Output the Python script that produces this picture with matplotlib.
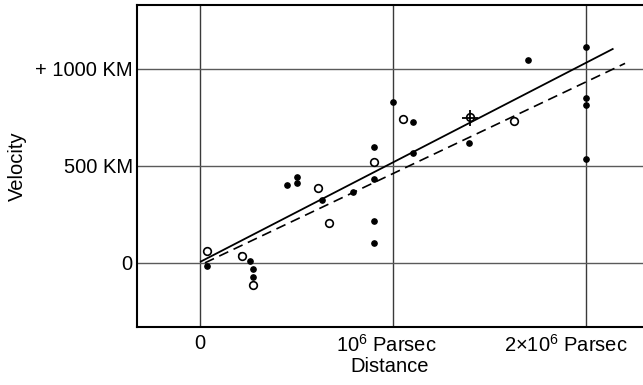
import matplotlib
matplotlib.use("Agg")
import matplotlib.pyplot as plt
from matplotlib.transforms import ScaledTranslation

plt.rcParams["font.family"] = ["Liberation Sans", "DejaVu Sans"]
plt.rcParams["mathtext.default"] = "regular"

# distance in units of 10^6 parsec, velocity in km/s
filled_dist = [0.038, 0.211, 0.261, 0.276, 0.276, 0.451, 0.503, 0.503, 0.634,
               0.794, 0.902, 0.902, 0.902, 0.902, 1.002, 1.102, 1.102, 1.395,
               1.699, 1.998, 1.998, 1.998, 1.998]
filled_vel = [-15, 41, 10, -29, -72, 402, 445, 414, 323,
              368, 600, 433, 218, 105, 832, 728, 569, 617,
              1046, 1115, 849, 814, 535]

open_dist = [0.038, 0.216, 0.273, 0.613, 0.670, 0.902, 1.050, 1.399, 1.627]
open_vel = [62, 36, -115, 388, 205, 519, 744, 754, 734]

cross_dist = [1.399]
cross_vel = [748]

# fitted relations
solid_dist = [0.005, 2.138]
solid_vel = [7, 1103]
dashed_dist = [0.026, 2.202]
dashed_vel = [0, 1029]

xticks = [0, 1, 2]
xtick_labels = ["0", "10$^6$ Parsec", "2×10$^6$ Parsec"]
yticks = [0, 500, 1000]
ytick_labels = ["0", "500 KM", "+ 1000 KM"]

fig = plt.figure(figsize=(6.43, 3.85), dpi=100)
ax = fig.add_axes([0.213, 0.151, 0.787, 0.836])

for x in xticks:
    ax.axvline(x, color="#3a3a3a", lw=1.0, zorder=1)
for y in yticks:
    ax.axhline(y, color="#5a5a5a", lw=1.0, zorder=1)

ax.plot(solid_dist, solid_vel, color="black", lw=1.3, zorder=2)
ax.plot(dashed_dist, dashed_vel, color="black", lw=1.2,
        linestyle=(0, (6, 3.5)), zorder=2)

ax.plot(filled_dist, filled_vel, "o", ms=3.8, color="black", zorder=3)
ax.plot(open_dist, open_vel, "o", ms=5.5, mfc="white", mec="black",
        mew=1.2, zorder=4)
ax.plot(cross_dist, cross_vel, "+", ms=11, color="black", mew=1.3, zorder=5)

ax.set_xlim(-0.326, 2.295)
ax.set_ylim(-330, 1330)

ax.set_xticks(xticks)
ax.set_xticklabels(xtick_labels)
ax.set_yticks(yticks)
ax.set_yticklabels(ytick_labels)
ax.tick_params(length=0, labelsize=14.5)
ax.tick_params(axis="x", pad=5)
ax.tick_params(axis="y", pad=3)

# the two long distance labels sit left of their gridlines, as in the original
shifts_px = [0, -7, -20]
for lbl, dx in zip(ax.get_xticklabels(), shifts_px):
    lbl.set_transform(lbl.get_transform() + ScaledTranslation(dx / 100, 0, fig.dpi_scale_trans))

ax.set_xlabel("Distance", fontsize=14.5, labelpad=1)
ax.set_ylabel("Velocity", fontsize=14.5, labelpad=6)

for side in ["left", "top", "bottom"]:
    ax.spines[side].set_linewidth(1.5)
ax.spines["right"].set_visible(False)

fig.savefig("out.png", dpi=100)
